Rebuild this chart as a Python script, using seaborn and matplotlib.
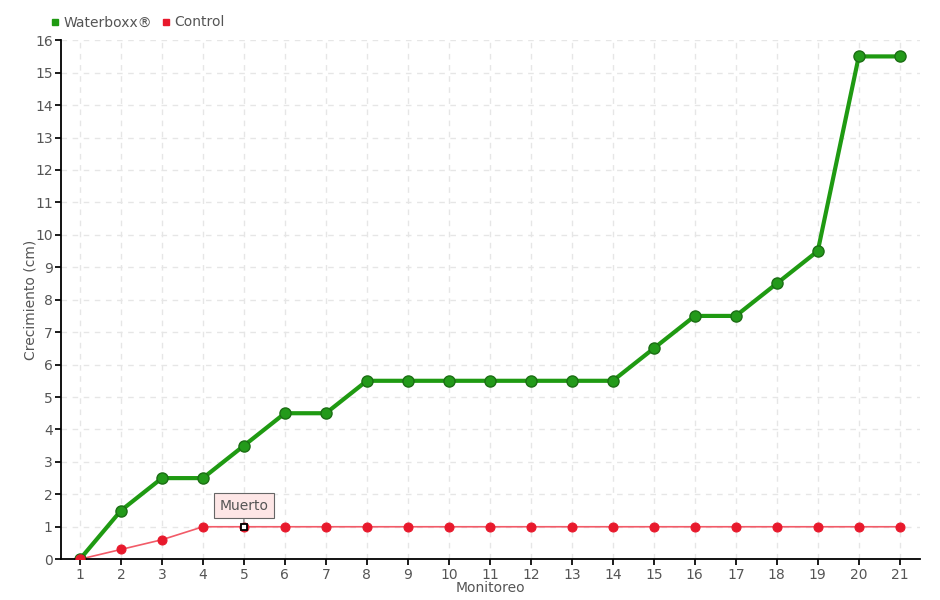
import matplotlib
matplotlib.use("Agg")
import matplotlib.pyplot as plt
import seaborn as sns
import pandas as pd
from matplotlib.lines import Line2D

monitoreo = list(range(1, 22))
waterboxx = [0, 1.5, 2.5, 2.5, 3.5, 4.5, 4.5, 5.5, 5.5, 5.5, 5.5, 5.5, 5.5, 5.5,
             6.5, 7.5, 7.5, 8.5, 9.5, 15.5, 15.5]
control = [0, 0.3, 0.6, 1, 1, 1, 1, 1, 1, 1, 1, 1, 1, 1, 1, 1, 1, 1, 1, 1, 1]
y_ticks = list(range(0, 17))
annot_idx = 4
annot_text = "Muerto"

sns.set_theme(style="white")
plt.rcParams['font.family'] = ['DejaVu Sans']

df = pd.DataFrame({"Monitoreo": monitoreo * 2,
                   "Crecimiento": waterboxx + control,
                   "Serie": ["Waterboxx®"] * 21 + ["Control"] * 21})

fig = plt.figure(figsize=(9.4, 6), dpi=100)
ax = fig.add_axes([0.065, 0.068, 0.914, 0.865])

green = "#1f9a12"
red = "#e8192c"
sns.lineplot(data=df[df.Serie == "Control"], x="Monitoreo", y="Crecimiento", ax=ax,
             color="#f25b68", linewidth=1.2, marker="o", markersize=6.5,
             markerfacecolor=red, markeredgecolor=red, legend=False)
sns.lineplot(data=df[df.Serie == "Waterboxx®"], x="Monitoreo", y="Crecimiento", ax=ax,
             color=green, linewidth=3, marker="o", markersize=8,
             markerfacecolor="#239a1a", markeredgecolor="#1b6e14", markeredgewidth=1,
             legend=False)
ax.plot([monitoreo[0]], [control[0]], marker="o", markersize=6.5, color=red, zorder=5)

ax.plot([monitoreo[annot_idx]], [control[annot_idx]], marker="s", markersize=4.5,
        markerfacecolor="white", markeredgecolor="black", markeredgewidth=1.3, zorder=6)
ax.annotate(annot_text, xy=(monitoreo[annot_idx], control[annot_idx]),
            xytext=(0, 15), textcoords="offset points", ha="center", va="center",
            fontsize=10, color="#555555",
            bbox=dict(boxstyle="square,pad=0.4", fc="#fde6e6", ec="#666666", lw=0.8),
            arrowprops=dict(arrowstyle="-", color="#666666", lw=0.8, shrinkA=0, shrinkB=3))

ax.set_xlim(0.54, 21.5)
ax.set_ylim(0, 16)
ax.set_xticks(monitoreo)
ax.set_yticks(y_ticks)
ax.tick_params(axis="both", which="both", labelsize=10, labelcolor="#555555",
               length=4, color="black", direction="out", pad=2,
               bottom=True, left=True)
ax.grid(True, linestyle=(0, (4, 4)), color="#e6e6e6", linewidth=1)
for s in ["top", "right"]:
    ax.spines[s].set_visible(False)
for s in ["left", "bottom"]:
    ax.spines[s].set_color("black")
    ax.spines[s].set_linewidth(1.3)
ax.set_xlabel("Monitoreo", fontsize=10, color="#555555")
ax.set_ylabel("Crecimiento (cm)", fontsize=10, color="#555555")
ax.yaxis.set_label_coords(-0.027, 0.5)
ax.xaxis.set_label_coords(0.5, -0.042)

handles = [Line2D([], [], marker="s", linestyle="none", color=green, markersize=5),
           Line2D([], [], marker="s", linestyle="none", color=red, markersize=5)]
fig.legend(handles, ["Waterboxx®", "Control"], loc="upper left",
           bbox_to_anchor=(0.039, 0.995), ncol=2, frameon=False, fontsize=10,
           handlelength=0.8, handletextpad=0.2, columnspacing=0.6, labelcolor="#555555")

fig.savefig("out.png", dpi=100)
